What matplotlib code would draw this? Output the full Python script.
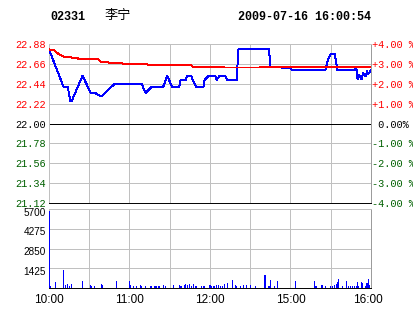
import matplotlib
matplotlib.use('Agg')
import matplotlib.pyplot as plt
import matplotlib.transforms as mtransforms

# x axis = minutes of trading since 10:00 (lunch break cut out), 240 = 16:00
price_t = [0, 11, 14, 16, 17, 25, 31, 34, 39, 49, 69, 72, 76, 85, 88, 92, 97, 98,
           102, 103, 106, 108, 110, 115, 116, 119, 124, 125, 127, 131, 133, 140,
           141, 164, 165, 172, 174, 180, 181, 206, 208, 210, 213, 215, 228, 229,
           230, 231, 233, 234, 236, 237, 238, 240]
price = [22.82, 22.40, 22.40, 22.25, 22.25, 22.53, 22.34, 22.34, 22.30, 22.44,
         22.44, 22.34, 22.40, 22.40, 22.53, 22.40, 22.40, 22.48, 22.48, 22.53,
         22.53, 22.45, 22.40, 22.40, 22.48, 22.53, 22.53, 22.48, 22.53, 22.53,
         22.48, 22.48, 22.82, 22.82, 22.63, 22.63, 22.61, 22.61, 22.59, 22.59,
         22.71, 22.77, 22.77, 22.59, 22.59, 22.62, 22.49, 22.54, 22.49, 22.56,
         22.52, 22.58, 22.55, 22.59]

avg_t = [0, 3, 4, 7, 11, 16, 17, 21, 22, 37, 39, 44, 45, 54, 55, 73, 74, 106,
         107, 130, 131, 157, 158, 240]
avg = [22.82, 22.81, 22.81, 22.77, 22.74, 22.74, 22.73, 22.73, 22.71, 22.71,
       22.68, 22.68, 22.67, 22.67, 22.66, 22.66, 22.65, 22.65, 22.63, 22.63,
       22.62, 22.62, 22.63, 22.63]

vol_t = [0, 1, 5, 11, 12, 14, 15, 17, 25, 31, 32, 34, 39, 40, 50, 60, 61, 63, 65,
         68, 69, 72, 76, 79, 80, 82, 85, 87, 93, 97, 98, 99, 101, 102, 103, 105,
         106, 108, 109, 110, 114, 115, 116, 120, 121, 123, 125, 126, 128, 129,
         131, 133, 137, 139, 140, 143, 145, 147, 150, 154, 161, 164, 165, 168,
         170, 184, 198, 199, 203, 204, 206, 210, 211, 213, 214, 215, 216, 219,
         222, 223, 225, 226, 228, 229, 230, 231, 233, 234, 236, 237, 238, 239]
vol = [5550, 120, 400, 1320, 190, 260, 170, 310, 530, 240, 170, 170, 310, 240,
       530, 530, 240, 170, 170, 240, 170, 170, 170, 170, 170, 170, 240, 170,
       240, 240, 170, 170, 240, 310, 240, 310, 170, 310, 170, 170, 170, 170,
       170, 240, 170, 170, 240, 240, 170, 170, 310, 360, 550, 240, 170, 170,
       240, 240, 240, 170, 960, 170, 600, 170, 530, 530, 530, 170, 240, 240,
       170, 170, 170, 240, 310, 400, 650, 170, 530, 170, 170, 170, 170, 170,
       420, 170, 420, 350, 170, 350, 650, 240]

prev_close = 22.00
price_ticks = [22.88, 22.66, 22.44, 22.22, 22.00, 21.78, 21.56, 21.34, 21.12]
pct_labels = ['+4.00 %', '+3.00 %', '+2.00 %', '+1.00 %', ' 0.00%',
              '-1.00 %', '-2.00 %', '-3.00 %', '-4.00 %']
vol_ticks = [1425, 2850, 4275, 5700]
time_ticks = [0, 60, 120, 180, 240]
time_labels = ['10:00', '11:00', '12:00', '15:00', '16:00']

title_code = '02331'
title_name = '李宁'
title_time = '2009-07-16 16:00:54'

RED = '#ff0000'
GREEN = '#006000'
BLUE = '#0000ff'
GRID = '#c0c0c0'
LW = 0.7
W, H = 414, 314

fig = plt.figure(figsize=(W / 100, H / 100), dpi=100, facecolor='white')

ax = fig.add_axes([49 / W, 1 - 203 / H, 322 / W, 159 / H])
ax_v = fig.add_axes([49 / W, 1 - 288 / H, 322 / W, 79 / H])


def label_color(v):
    if v > prev_close + 1e-9:
        return RED
    if v < prev_close - 1e-9:
        return GREEN
    return 'black'


for a in (ax, ax_v):
    a.set_xlim(0, 240)
    a.set_xticks(range(0, 241, 30))
    a.grid(True, color=GRID, lw=LW, antialiased=False)
    a.set_axisbelow(True)
    a.tick_params(length=0)
    for s in ('top', 'left'):
        a.spines[s].set_color(GRID)
        a.spines[s].set_linewidth(LW)
    a.spines['right'].set_color('#999999')
    a.spines['right'].set_linewidth(LW)
    a.spines['bottom'].set_color('black')
    a.spines['bottom'].set_linewidth(LW)

# price panel
ax.set_ylim(price_ticks[-1], price_ticks[0])
ax.set_yticks(price_ticks)
ax.set_yticklabels(['%.2f' % v for v in price_ticks], family='Liberation Mono', fontsize=7.4)
ax.tick_params(axis='y', pad=2)
for lbl, v in zip(ax.get_yticklabels(), price_ticks):
    lbl.set_color(label_color(v))
ax.set_xticklabels([])
ax.axhline(prev_close, color='black', lw=LW, antialiased=False, zorder=1.5)
ax.plot(price_t, price, color=BLUE, lw=LW, antialiased=False, zorder=3)
ax.plot(avg_t, avg, color=RED, lw=LW, antialiased=False, zorder=4)

ax_r = ax.twinx()
ax_r.set_ylim(ax.get_ylim())
ax_r.set_yticks(price_ticks)
ax_r.set_yticklabels(pct_labels, family='Liberation Mono', fontsize=7.4)
ax_r.tick_params(length=0, pad=1)
for lbl, v in zip(ax_r.get_yticklabels(), price_ticks):
    lbl.set_color(label_color(v))
for s in ax_r.spines.values():
    s.set_visible(False)

# volume panel
ax_v.set_ylim(0, vol_ticks[-1])
ax_v.set_yticks(vol_ticks)
ax_v.set_yticklabels([str(v) for v in vol_ticks], family='Liberation Sans', fontsize=7.2)
ax_v.tick_params(axis='y', pad=2)
down = mtransforms.ScaledTranslation(0, -2.5 / 100, fig.dpi_scale_trans)
for lbl in ax_v.get_yticklabels():
    lbl.set_transform(lbl.get_transform() + down)
ax_v.bar(vol_t, vol, width=0.8, color=BLUE, linewidth=0, antialiased=False, zorder=3)

ax_v.set_xticks(range(0, 241, 30))
ax_v.set_xticklabels([time_labels[time_ticks.index(t)] if t in time_ticks else ''
                      for t in range(0, 241, 30)],
                     family='Liberation Sans', fontsize=8.5)
ax_v.tick_params(axis='x', pad=4)
left = mtransforms.ScaledTranslation(-3 / 100, 0, fig.dpi_scale_trans)
last = ax_v.get_xticklabels()[-1]
last.set_transform(last.get_transform() + left)

# header
fig.text(50 / W, 1 - 16.5 / H, title_code, family='Liberation Mono', weight='bold',
         fontsize=8.5, ha='left', va='center')
fig.text(105 / W, 1 - 16 / H, title_name, family=['Noto Sans CJK SC', 'DejaVu Sans'],
         fontsize=9.5, ha='left', va='center')
fig.text(371 / W, 1 - 16.5 / H, title_time, family='Liberation Mono', weight='bold',
         fontsize=8.5, ha='right', va='center')

fig.savefig('out.png', dpi=100, facecolor='white')
